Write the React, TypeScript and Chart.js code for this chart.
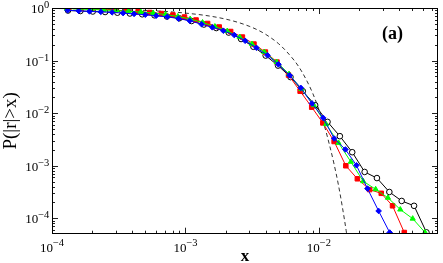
import React, { useEffect, useRef } from 'react';
import { Chart, registerables } from 'chart.js';

Chart.register(...registerables);

// Axis ranges
const X_MIN = 1e-4;
const X_MAX = 0.078;
const Y_MIN = 5.1e-5;
const Y_MAX = 1;

// Decades that carry a "10^n" label
const xDecades = [-4, -3, -2];
const yDecades = [0, -1, -2, -3, -4];

// Series
const blueX = [1.31e-4, 1.585e-4, 1.91e-4, 2.32e-4, 2.82e-4, 3.41e-4, 4.12e-4, 5.0e-4, 6.03e-4, 7.31e-4, 8.87e-4, 1.076e-3, 1.32e-3, 1.59e-3, 1.92e-3, 2.32e-3, 2.8e-3, 3.4e-3, 4.12e-3, 4.97e-3, 6.03e-3, 7.31e-3, 8.87e-3, 1.076e-2, 1.3e-2, 1.58e-2, 1.91e-2, 2.31e-2, 2.8e-2, 3.39e-2];
const blueY = [0.904, 0.882, 0.862, 0.845, 0.826, 0.8, 0.772, 0.745, 0.713, 0.68, 0.628, 0.573, 0.492, 0.429, 0.37, 0.306, 0.238, 0.175, 0.126, 0.0847, 0.0523, 0.0303, 0.0153, 8.13e-3, 3.3e-3, 2.04e-3, 1.02e-3, 3.68e-4, 1.38e-4, 5.37e-5];

const redX = [1.336e-4, 1.632e-4, 1.992e-4, 2.43e-4, 2.97e-4, 3.62e-4, 4.42e-4, 5.4e-4, 6.6e-4, 8.05e-4, 9.83e-4, 1.2e-3, 1.465e-3, 1.79e-3, 2.18e-3, 2.67e-3, 3.26e-3, 3.97e-3, 4.85e-3, 5.92e-3, 7.23e-3, 8.83e-3, 1.07e-2, 1.3e-2, 1.59e-2, 1.94e-2, 2.4e-2, 2.93e-2, 3.56e-2, 4.36e-2];
const redY = [0.99, 0.975, 0.957, 0.936, 0.916, 0.877, 0.85, 0.821, 0.785, 0.736, 0.674, 0.591, 0.507, 0.435, 0.357, 0.28, 0.206, 0.145, 0.0936, 0.053, 0.0262, 0.013, 6.53e-3, 2.89e-3, 1.0e-3, 5.65e-4, 3.52e-4, 2.99e-4, 1.73e-4, 5.37e-5];

const greenX = [1.288e-4, 1.593e-4, 1.971e-4, 2.44e-4, 3.02e-4, 3.74e-4, 4.63e-4, 5.73e-4, 7.09e-4, 8.77e-4, 1.085e-3, 1.343e-3, 1.662e-3, 2.057e-3, 2.55e-3, 3.15e-3, 3.9e-3, 4.83e-3, 5.97e-3, 7.39e-3, 9.15e-3, 1.132e-2, 1.402e-2, 1.735e-2, 2.147e-2, 2.66e-2, 3.29e-2, 4.07e-2, 5.04e-2, 6.23e-2];
const greenY = [0.978, 0.957, 0.936, 0.916, 0.896, 0.865, 0.839, 0.803, 0.752, 0.689, 0.617, 0.53, 0.444, 0.365, 0.28, 0.206, 0.145, 0.0936, 0.0553, 0.0287, 0.0142, 6.17e-3, 2.72e-3, 1.19e-3, 5.07e-4, 3.57e-4, 2.46e-4, 1.47e-4, 9.86e-5, 5.41e-5];

const blackX = [1.318e-4, 1.632e-4, 2.02e-4, 2.5e-4, 3.09e-4, 3.83e-4, 4.74e-4, 5.86e-4, 7.26e-4, 8.98e-4, 1.111e-3, 1.375e-3, 1.702e-3, 2.107e-3, 2.61e-3, 3.23e-3, 3.99e-3, 4.94e-3, 6.12e-3, 7.57e-3, 9.37e-3, 1.16e-2, 1.435e-2, 1.776e-2, 2.2e-2, 2.72e-2, 3.37e-2, 4.17e-2, 5.16e-2, 6.39e-2];
const blackY = [0.896, 0.877, 0.858, 0.839, 0.814, 0.786, 0.759, 0.726, 0.689, 0.637, 0.565, 0.485, 0.416, 0.341, 0.257, 0.183, 0.1245, 0.0803, 0.0485, 0.0262, 0.0142, 6.83e-3, 3.65e-3, 1.81e-3, 7.62e-4, 5.83e-4, 3.17e-4, 2.14e-4, 1.73e-4, 5.41e-5];

const dashX = [1e-4, 2e-4, 4e-4, 6e-4, 8e-4, 1e-3, 1.5e-3, 2e-3, 2.5e-3, 3e-3, 3.5e-3, 4e-3, 5e-3, 6e-3, 7e-3, 8e-3, 9e-3, 1e-2, 1.1e-2, 1.2e-2, 1.3e-2, 1.4e-2, 1.5e-2, 1.6e-2, 1.65e-2];
const dashY = [0.98, 0.96, 0.92, 0.88, 0.84, 0.8, 0.706, 0.615, 0.529, 0.45, 0.379, 0.314, 0.208, 0.13, 0.079, 0.0442, 0.0236, 0.0117, 5.67e-3, 2.48e-3, 1.06e-3, 4.3e-4, 1.61e-4, 5.8e-5, 3.3e-5];

const panelLabel = '(a)';
const xTitle = 'x';
const yTitle = 'P(|r|>x)';

const pts = (xs: number[], ys: number[]) => xs.map((x, i) => ({ x, y: ys[i] }));

const SERIF = '"Liberation Serif", "DejaVu Serif", serif';

const decorPlugin = {
  id: 'decor',
  afterDatasetsDraw(chart: any) {
    const { ctx, chartArea: a } = chart;
    const xs = chart.scales.x;
    const ys = chart.scales.y;
    ctx.save();
    // tick marks, inward, on all four sides
    ctx.strokeStyle = '#222';
    ctx.lineWidth = 1;
    ctx.beginPath();
    for (let d = -5; d <= 0; d++) {
      for (let m = 1; m <= 9; m++) {
        const v = m * Math.pow(10, d);
        const len = m === 1 ? 6 : 3;
        if (v >= xs.min && v <= xs.max) {
          const px = Math.round(xs.getPixelForValue(v)) + 0.5;
          ctx.moveTo(px, a.bottom);
          ctx.lineTo(px, a.bottom - len);
          ctx.moveTo(px, a.top);
          ctx.lineTo(px, a.top + len);
        }
        if (v >= ys.min && v <= ys.max) {
          const py = Math.round(ys.getPixelForValue(v)) + 0.5;
          ctx.moveTo(a.left, py);
          ctx.lineTo(a.left + len, py);
          ctx.moveTo(a.right, py);
          ctx.lineTo(a.right - len, py);
        }
      }
    }
    ctx.stroke();
    // frame
    ctx.strokeStyle = '#000';
    ctx.lineWidth = 1;
    ctx.strokeRect(Math.round(a.left) + 0.5, Math.round(a.top) + 0.5, Math.round(a.right - a.left) - 1, Math.round(a.bottom - a.top) - 1);

    // tick labels 10^n
    ctx.fillStyle = '#000';
    ctx.textBaseline = 'alphabetic';
    ctx.textAlign = 'left';
    const baseFont = `13px ${SERIF}`;
    const supFont = `10.5px ${SERIF}`;
    const expText = (d: number) => (d < 0 ? '\u2212' + String(-d) : String(d));
    for (const d of xDecades) {
      const px = xs.getPixelForValue(Math.pow(10, d));
      const e = expText(d);
      ctx.font = baseFont;
      const w1 = ctx.measureText('10').width;
      ctx.font = supFont;
      const w2 = ctx.measureText(e).width;
      const x0 = px - (w1 + w2) / 2;
      ctx.font = baseFont;
      ctx.fillText('10', x0, a.bottom + 18);
      ctx.font = supFont;
      ctx.fillText(e, x0 + w1, a.bottom + 12);
    }
    for (const d of yDecades) {
      const py = ys.getPixelForValue(Math.pow(10, d));
      const e = expText(d);
      ctx.font = baseFont;
      const w1 = ctx.measureText('10').width;
      ctx.font = supFont;
      const w2 = ctx.measureText(e).width;
      const right = a.left - 2.7;
      ctx.fillText(e, right - w2, py);
      ctx.font = baseFont;
      ctx.fillText('10', right - w2 - w1, py + 5);
    }

    // panel label
    ctx.font = `bold 18px ${SERIF}`;
    ctx.textAlign = 'center';
    ctx.textBaseline = 'middle';
    ctx.fillText(panelLabel, a.right - 45.5, a.top + 26);
    ctx.restore();
  },
};

export default function App() {
  const canvasRef = useRef<HTMLCanvasElement | null>(null);

  useEffect(() => {
    const canvas = canvasRef.current;
    if (!canvas) return;
    const lineDs = (label: string, xs: number[], ys: number[], color: string, style: string, radius: number, fill: string) => ({
      label,
      data: pts(xs, ys),
      borderColor: color,
      borderWidth: 1,
      pointStyle: style,
      pointRadius: radius,
      pointBackgroundColor: fill,
      pointBorderColor: color,
      pointBorderWidth: 1,
      tension: 0,
      fill: false,
    });
    const chart = new Chart(canvas, {
      type: 'line',
      data: {
        datasets: [
          lineDs('blue', blueX, blueY, '#0000ff', 'rectRot', 2.8, '#0000ff'),
          lineDs('green', greenX, greenY, '#00ff00', 'triangle', 3, '#00ff00'),
          lineDs('red', redX, redY, '#ff0000', 'rect', 3.2, '#ff0000'),
          lineDs('black', blackX, blackY, '#000000', 'circle', 2.8, '#ffffff'),
          {
            label: 'gaussian',
            data: pts(dashX, dashY),
            borderColor: '#333333',
            borderWidth: 1,
            borderDash: [4, 3],
            pointRadius: 0,
            cubicInterpolationMode: 'monotone',
            fill: false,
          } as any,
        ],
      },
      options: {
        animation: false,
        responsive: true,
        maintainAspectRatio: false,
        layout: { padding: { top: 8, right: 1, left: 0, bottom: 0 } },
        plugins: { legend: { display: false }, tooltip: { enabled: false } },
        scales: {
          x: {
            type: 'logarithmic',
            min: X_MIN,
            max: X_MAX,
            grid: { display: false },
            border: { display: false },
            ticks: { display: false },
            title: {
              display: true,
              text: xTitle,
              color: '#000',
              padding: 0,
              font: { family: SERIF, size: 17, weight: 'bold', lineHeight: 0.75 },
            },
            afterFit: (s: any) => {
              s.height = 29.3;
            },
          },
          y: {
            type: 'logarithmic',
            min: Y_MIN,
            max: Y_MAX,
            grid: { display: false },
            border: { display: false },
            ticks: { display: false },
            title: {
              display: true,
              text: yTitle,
              color: '#000',
              padding: 0,
              font: { family: SERIF, size: 19 },
            },
            afterFit: (s: any) => {
              s.width = 52;
            },
          },
        },
      } as any,
      plugins: [decorPlugin],
    });
    return () => chart.destroy();
  }, []);

  return (
    <div style={{ position: 'absolute', left: 0, top: 0, width: 443, height: 263, background: '#fff' }}>
      <canvas ref={canvasRef} />
    </div>
  );
}
